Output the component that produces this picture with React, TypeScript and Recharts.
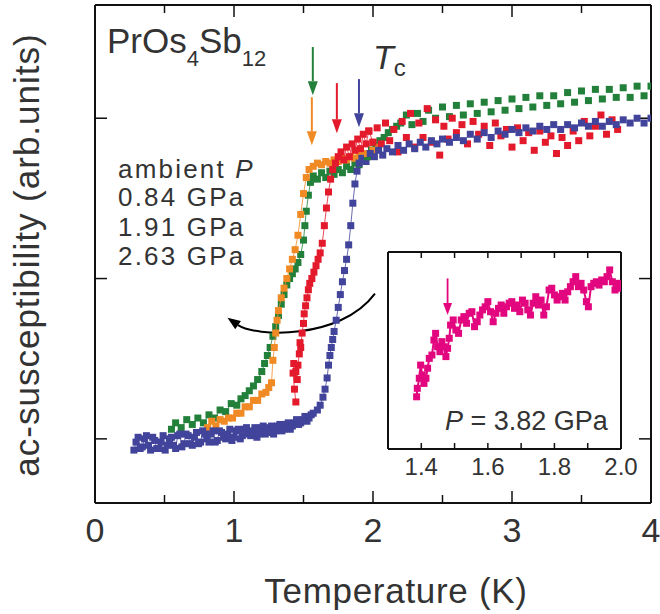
import React from 'react';
import { ComposedChart, Scatter, XAxis, YAxis, ReferenceLine } from 'recharts';

type Pt = [number, number];

// ---------- axes ----------
const tempTicks = [0, 1, 2, 3, 4];
const tempMinorTicks = [0.5, 1.5, 2.5, 3.5];
const chiTicks = [0, 1, 2];
const insetTicks = [1.4, 1.6, 1.8, 2.0];
const insetAllTicks = [1.4, 1.5, 1.6, 1.7, 1.8, 1.9];

// ---------- labels ----------
const pressureLabels = ['ambient', '0.84 GPa', '1.91 GPa', '2.63 GPa'];
const insetLabel = '= 3.82 GPa';

// ---------- series (T [K], chi [arb.]) ----------
const greenSeries: Pt[] = [
  [0.55, 0.06], [0.58, 0.1], [0.62, 0.07], [0.66, 0.12], [0.7, 0.09], [0.74, 0.13], [0.78, 0.1],
  [0.82, 0.15], [0.86, 0.13], [0.9, 0.18], [0.94, 0.17], [0.98, 0.22], [1.02, 0.21], [1.05, 0.25],
  [1.08, 0.27], [1.11, 0.3], [1.14, 0.33], [1.17, 0.37], [1.2, 0.42], [1.22, 0.47], [1.24, 0.52],
  [1.26, 0.57], [1.28, 0.64], [1.3, 0.7], [1.32, 0.77], [1.34, 0.84], [1.36, 0.9], [1.38, 0.96],
  [1.4, 1.0], [1.42, 1.03], [1.44, 1.06], [1.46, 1.1], [1.48, 1.15], [1.5, 1.24], [1.51, 1.33],
  [1.52, 1.42], [1.535, 1.52], [1.55, 1.6], [1.57, 1.64], [1.6, 1.62], [1.63, 1.66], [1.66, 1.63],
  [1.69, 1.67], [1.72, 1.65], [1.75, 1.68], [1.78, 1.66], [1.81, 1.7], [1.84, 1.68], [1.87, 1.72],
  [1.9, 1.71], [1.93, 1.74], [1.96, 1.76], [1.99, 1.8], [2.02, 1.83], [2.05, 1.86], [2.08, 1.88],
  [2.11, 1.91], [2.14, 1.93], [2.17, 1.95], [2.2, 1.97], [2.24, 2.02], [2.28, 1.96], [2.32, 2.03],
  [2.36, 1.98], [2.4, 2.05], [2.45, 2.0], [2.5, 2.07], [2.55, 2.01], [2.6, 2.08], [2.65, 2.02],
  [2.7, 2.09], [2.75, 2.03], [2.8, 2.1], [2.85, 2.04], [2.9, 2.11], [2.95, 2.05], [3.0, 2.12],
  [3.05, 2.06], [3.1, 2.13], [3.15, 2.07], [3.2, 2.14], [3.25, 2.08], [3.3, 2.14], [3.35, 2.09],
  [3.4, 2.16], [3.45, 2.1], [3.5, 2.17], [3.55, 2.11], [3.6, 2.18], [3.65, 2.12], [3.7, 2.18],
  [3.75, 2.13], [3.8, 2.19], [3.85, 2.13], [3.9, 2.2], [3.95, 2.14], [4.0, 2.2],
];

const orangeSeries: Pt[] = [
  [0.81, 0.07], [0.84, 0.11], [0.87, 0.08], [0.9, 0.12], [0.93, 0.11], [0.96, 0.13], [0.99, 0.13],
  [1.02, 0.16], [1.05, 0.16], [1.08, 0.2], [1.11, 0.2], [1.14, 0.24], [1.17, 0.24], [1.2, 0.28],
  [1.23, 0.29], [1.25, 0.32], [1.27, 0.35], [1.28, 0.49], [1.29, 0.57], [1.3, 0.66], [1.31, 0.74],
  [1.32, 0.8], [1.34, 0.88], [1.36, 0.94], [1.38, 1.0], [1.4, 1.06], [1.42, 1.12], [1.44, 1.18],
  [1.46, 1.27], [1.48, 1.4], [1.5, 1.53], [1.52, 1.63], [1.54, 1.68], [1.57, 1.7], [1.6, 1.72],
  [1.63, 1.71], [1.66, 1.73], [1.69, 1.72], [1.72, 1.74], [1.75, 1.73], [1.78, 1.75], [1.81, 1.74],
  [1.84, 1.76], [1.87, 1.75], [1.9, 1.77], [1.93, 1.78], [1.96, 1.78], [2.0, 1.8], [2.04, 1.82],
];

const redSeries: Pt[] = [
  [1.445, 0.23], [1.435, 0.31], [1.425, 0.41], [1.43, 0.47], [1.445, 0.42], [1.455, 0.37],
  [1.46, 0.46], [1.47, 0.53], [1.475, 0.6], [1.48, 0.57], [1.49, 0.66], [1.5, 0.72], [1.505, 0.78],
  [1.515, 0.83], [1.525, 0.88], [1.535, 0.93], [1.545, 0.97], [1.56, 1.0], [1.575, 1.04],
  [1.59, 1.08], [1.605, 1.12], [1.62, 1.16], [1.635, 1.22], [1.65, 1.33], [1.665, 1.44],
  [1.68, 1.54], [1.695, 1.62], [1.71, 1.68], [1.73, 1.72], [1.75, 1.76], [1.77, 1.79], [1.79, 1.74],
  [1.81, 1.82], [1.83, 1.76], [1.85, 1.84], [1.87, 1.8], [1.89, 1.87], [1.91, 1.81], [1.93, 1.9],
  [1.95, 1.84], [1.97, 1.92], [2.0, 1.85], [2.03, 1.94], [2.06, 1.84], [2.09, 1.97], [2.12, 1.86],
  [2.15, 1.93], [2.18, 1.79], [2.21, 1.98], [2.24, 1.88], [2.27, 2.03], [2.3, 1.82], [2.33, 1.97],
  [2.36, 1.88], [2.39, 2.06], [2.42, 1.85], [2.45, 1.99], [2.48, 1.77], [2.51, 1.95], [2.54, 1.87],
  [2.57, 2.0], [2.6, 1.91], [2.64, 1.96], [2.68, 1.84], [2.72, 1.98], [2.76, 1.9], [2.8, 1.95],
  [2.84, 1.83], [2.88, 1.97], [2.92, 1.89], [2.96, 1.93], [3.0, 1.82], [3.04, 1.94], [3.08, 1.86],
  [3.12, 1.91], [3.16, 1.8], [3.2, 1.92], [3.24, 1.85], [3.28, 1.89], [3.32, 1.78], [3.36, 1.88],
  [3.4, 1.83], [3.44, 1.92], [3.48, 1.86], [3.52, 1.98], [3.56, 1.89], [3.6, 1.95], [3.64, 2.02],
  [3.68, 1.9], [3.72, 1.99], [3.76, 1.93],
];

const blueSeries: Pt[] = [
  [0.28, -0.07], [0.295, -0.02], [0.31, 0.01], [0.325, -0.06], [0.34, -0.05], [0.355, 0.0], [0.37, 0.02],
  [0.385, -0.04], [0.4, -0.07], [0.415, 0.01], [0.43, -0.01], [0.445, -0.06], [0.46, -0.06], [0.475, -0.02],
  [0.49, 0.02], [0.505, -0.07], [0.52, -0.04], [0.535, 0.0], [0.55, 0.01], [0.565, -0.04], [0.58, -0.06],
  [0.595, 0.02], [0.61, 0.03], [0.625, -0.05], [0.64, -0.03], [0.655, 0.03], [0.67, 0.02], [0.685, -0.03],
  [0.7, -0.04], [0.715, 0.01], [0.73, 0.04], [0.745, -0.03], [0.76, -0.02], [0.775, 0.05], [0.79, 0.03],
  [0.805, 0.0], [0.82, -0.02], [0.835, 0.03], [0.85, 0.05], [0.865, -0.02], [0.88, -0.01], [0.895, 0.05],
  [0.91, 0.04], [0.925, 0.01], [0.94, 0.0], [0.955, 0.03], [0.97, 0.06], [0.985, -0.01], [1.0, 0.01],
  [1.015, 0.05], [1.03, 0.06], [1.045, 0.0], [1.06, 0.02], [1.075, 0.06], [1.09, 0.07], [1.105, 0.03],
  [1.12, 0.02], [1.135, 0.05], [1.15, 0.07], [1.165, 0.01], [1.18, 0.03], [1.195, 0.07], [1.21, 0.08],
  [1.225, 0.03], [1.24, 0.04], [1.255, 0.07], [1.27, 0.08], [1.285, 0.03], [1.3, 0.05], [1.315, 0.08],
  [1.33, 0.09], [1.345, 0.05], [1.36, 0.06], [1.375, 0.09], [1.39, 0.1], [1.405, 0.06], [1.42, 0.08],
  [1.435, 0.1], [1.45, 0.12], [1.465, 0.09], [1.48, 0.1], [1.495, 0.12], [1.51, 0.14], [1.525, 0.11],
  [1.54, 0.13], [1.555, 0.15], [1.57, 0.16], [1.6, 0.18], [1.62, 0.21], [1.64, 0.26], [1.655, 0.31],
  [1.67, 0.38], [1.68, 0.46], [1.69, 0.52], [1.7, 0.57], [1.71, 0.62], [1.72, 0.67], [1.735, 0.74],
  [1.75, 0.82], [1.765, 0.9], [1.78, 0.98], [1.795, 1.05], [1.81, 1.12], [1.825, 1.21], [1.84, 1.33],
  [1.855, 1.47], [1.87, 1.59], [1.885, 1.67], [1.9, 1.72], [1.92, 1.75], [1.95, 1.73], [1.98, 1.78],
  [2.01, 1.76], [2.04, 1.8], [2.07, 1.77], [2.1, 1.81], [2.14, 1.79], [2.18, 1.83], [2.22, 1.8],
  [2.26, 1.84], [2.3, 1.81], [2.34, 1.85], [2.38, 1.82], [2.42, 1.86], [2.46, 1.84], [2.5, 1.87],
  [2.55, 1.85], [2.6, 1.88], [2.65, 1.86], [2.7, 1.9], [2.75, 1.87], [2.8, 1.91], [2.85, 1.88],
  [2.9, 1.92], [2.95, 1.9], [3.0, 1.93], [3.05, 1.91], [3.1, 1.94], [3.15, 1.92], [3.2, 1.95],
  [3.25, 1.93], [3.3, 1.96], [3.35, 1.93], [3.4, 1.96], [3.45, 1.94], [3.5, 1.97], [3.55, 1.95],
  [3.6, 1.98], [3.65, 1.95], [3.7, 1.98], [3.75, 1.96], [3.8, 1.99], [3.85, 1.97], [3.9, 2.0],
  [3.95, 1.97], [4.0, 2.0],
];

const insetSeries: Pt[] = [
  [1.386, 0.265], [1.388, 0.308], [1.394, 0.359], [1.398, 0.426], [1.403, 0.376], [1.408, 0.333],
  [1.414, 0.359], [1.419, 0.41], [1.424, 0.46], [1.432, 0.477], [1.438, 0.553], [1.443, 0.587],
  [1.449, 0.519], [1.456, 0.494], [1.462, 0.545], [1.468, 0.519], [1.474, 0.469], [1.479, 0.511],
  [1.484, 0.562], [1.488, 0.629], [1.496, 0.655], [1.504, 0.604], [1.512, 0.587], [1.52, 0.655],
  [1.528, 0.672], [1.536, 0.638], [1.544, 0.689], [1.552, 0.697], [1.56, 0.621], [1.568, 0.646],
  [1.576, 0.68], [1.584, 0.706], [1.592, 0.722], [1.6, 0.748], [1.608, 0.697], [1.616, 0.646],
  [1.624, 0.689], [1.632, 0.714], [1.64, 0.731], [1.648, 0.689], [1.656, 0.722], [1.664, 0.74],
  [1.672, 0.748], [1.68, 0.714], [1.688, 0.731], [1.696, 0.697], [1.704, 0.756], [1.712, 0.74],
  [1.72, 0.706], [1.728, 0.68], [1.736, 0.74], [1.744, 0.773], [1.752, 0.731], [1.76, 0.756],
  [1.768, 0.68], [1.776, 0.722], [1.784, 0.807], [1.792, 0.816], [1.8, 0.782], [1.808, 0.756],
  [1.816, 0.773], [1.824, 0.79], [1.832, 0.756], [1.84, 0.798], [1.848, 0.824], [1.856, 0.849],
  [1.864, 0.875], [1.872, 0.824], [1.88, 0.841], [1.888, 0.807], [1.896, 0.748], [1.902, 0.722],
  [1.91, 0.824], [1.918, 0.841], [1.926, 0.849], [1.934, 0.832], [1.942, 0.858], [1.95, 0.849],
  [1.958, 0.875], [1.966, 0.909], [1.974, 0.849], [1.982, 0.807], [1.99, 0.841], [1.998, 0.816],
];

// ---------- colours ----------
const GREEN = '#22803a';
const ORANGE = '#f08a24';
const RED = '#e31a2c';
const BLUE = '#41449a';
const MAGENTA = '#e2077f';

// ---------- Tc markers (T, arrow start chi, arrow end chi) ----------
const tcArrows = [
  { t: 1.567, from: 2.444, to: 2.144, color: GREEN },
  { t: 1.56, from: 2.131, to: 1.831, color: ORANGE },
  { t: 1.74, from: 2.219, to: 1.906, color: RED },
  { t: 1.899, from: 2.244, to: 1.944, color: BLUE },
];
const insetTc = { t: 1.479, from: 0.866, to: 0.68 };
const pressureArrow = { fromT: 2.014, fromChi: 0.906, toT: 0.953, toChi: 0.756 };
const transitionEnd = 2.0; // connecting lines are visible only across the transitions

const FONT = "'Liberation Sans', Arial, Helvetica, sans-serif";
const TEXT = '#333';
const AXIS = '#111';

const toRows = (pts: Pt[]) => pts.map(([t, chi]) => ({ t, chi }));
const blank = () => '';

const square = (color: string, s: number) => (p: any) =>
  p.cx == null ? <g /> : <rect x={p.cx - s / 2} y={p.cy - s / 2} width={s} height={s} fill={color} />;

// inward tick marks at both ends of a vertical reference line
const xTickMark = (len: number) => (p: any) => {
  const { x1, y1, y2 } = p;
  const top = Math.min(y1, y2);
  const bottom = Math.max(y1, y2);
  return (
    <g>
      <line x1={x1} x2={x1} y1={bottom} y2={bottom - len} stroke={AXIS} strokeWidth={1.5} />
      <line x1={x1} x2={x1} y1={top} y2={top + len} stroke={AXIS} strokeWidth={1.5} />
    </g>
  );
};

const straightArrow = (color: string, head: number, half: number, w: number) => (p: any) => {
  const { x1, y1, x2, y2 } = p;
  const dx = x2 - x1;
  const dy = y2 - y1;
  const len = Math.hypot(dx, dy) || 1;
  const ux = dx / len;
  const uy = dy / len;
  const bx = x2 - ux * head;
  const by = y2 - uy * head;
  return (
    <g>
      <line x1={x1} y1={y1} x2={bx} y2={by} stroke={color} strokeWidth={w} />
      <polygon
        points={`${x2},${y2} ${bx - uy * half},${by + ux * half} ${bx + uy * half},${by - ux * half}`}
        fill={color}
      />
    </g>
  );
};

const curvedArrow = (p: any) => {
  const { x1, y1, x2, y2 } = p;
  const c1x = x1 - 35;
  const c1y = y1 + 47;
  const c2x = x2 + 27;
  const c2y = y2 + 19;
  const tx = x2 - c2x;
  const ty = y2 - c2y;
  const len = Math.hypot(tx, ty) || 1;
  const ux = tx / len;
  const uy = ty / len;
  const head = 13;
  const half = 5;
  const bx = x2 - ux * head;
  const by = y2 - uy * head;
  return (
    <g>
      <path d={`M${x1},${y1} C${c1x},${c1y} ${c2x},${c2y} ${bx},${by}`} fill="none" stroke="#000" strokeWidth={2} />
      <polygon
        points={`${x2},${y2} ${bx - uy * half},${by + ux * half} ${bx + uy * half},${by - ux * half}`}
        fill="#000"
      />
    </g>
  );
};

const axisLine = { strokeWidth: 2 };
const tickLine = { strokeWidth: 1.5 };

const seriesList = [
  { key: 'green', data: greenSeries, color: GREEN },
  { key: 'orange', data: orangeSeries, color: ORANGE },
  { key: 'red', data: redSeries, color: RED },
  { key: 'blue', data: blueSeries, color: BLUE },
];

export default function App() {
  return (
    <div style={{ position: 'absolute', left: 0, top: 0, width: 660, height: 614, background: '#fff' }}>
      <ComposedChart width={660} height={614} margin={{ top: 4, right: 9, bottom: 110, left: 95 }}>
        <XAxis
          xAxisId="t"
          type="number"
          dataKey="t"
          domain={[0, 4]}
          ticks={tempTicks}
          interval={0}
          height={1}
          tickSize={0}
          tickMargin={15}
          axisLine={axisLine}
          stroke={AXIS}
          tickLine={false}
          tick={{ fontSize: 34, fill: TEXT, fontFamily: FONT }}
          allowDataOverflow
        />
        <XAxis xAxisId="tTop" orientation="top" type="number" domain={[0, 4]} ticks={tempTicks} interval={0}
          height={1} stroke={AXIS} axisLine={axisLine} tickLine={false} tickFormatter={blank} allowDataOverflow />
        <YAxis
          yAxisId="chi"
          type="number"
          dataKey="chi"
          domain={[-0.4, 2.70625]}
          ticks={chiTicks}
          interval={0}
          width={1}
          mirror
          stroke={AXIS}
          tickSize={12}
          axisLine={axisLine}
          tickLine={tickLine}
          tickFormatter={blank}
          allowDataOverflow
        />
        <YAxis yAxisId="chiR" orientation="right" type="number" domain={[-0.4, 2.70625]} ticks={chiTicks}
          interval={0} width={1} mirror stroke={AXIS} tickSize={12} axisLine={axisLine} tickLine={tickLine}
          tickFormatter={blank} allowDataOverflow />

        {tempTicks.slice(1, -1).map((v) => (
          <ReferenceLine key={`maj${v}`} xAxisId="t" yAxisId="chi" x={v} shape={xTickMark(12)} />
        ))}
        {tempMinorTicks.map((v) => (
          <ReferenceLine key={`min${v}`} xAxisId="t" yAxisId="chi" x={v} shape={xTickMark(8)} />
        ))}

        {seriesList.map((s) => (
          <Scatter
            key={`${s.key}-tr`}
            xAxisId="t"
            yAxisId="chi"
            data={toRows(s.data.filter(([t]) => t <= transitionEnd))}
            dataKey="chi"
            fill={s.color}
            line={{ stroke: s.color, strokeWidth: 0.8 }}
            lineType="joint"
            shape={square(s.color, 7)}
            isAnimationActive={false}
          />
        ))}
        {seriesList.map((s) => (
          <Scatter
            key={`${s.key}-n`}
            xAxisId="t"
            yAxisId="chi"
            data={toRows(s.data.filter(([t]) => t >= transitionEnd - 0.04))}
            dataKey="chi"
            fill={s.color}
            shape={square(s.color, 7)}
            isAnimationActive={false}
          />
        ))}

        {tcArrows.map((a) => (
          <ReferenceLine
            key={a.color}
            xAxisId="t"
            yAxisId="chi"
            segment={[{ x: a.t, y: a.from }, { x: a.t, y: a.to }]}
            ifOverflow="visible"
            shape={straightArrow(a.color, 14, 5, 2)}
          />
        ))}
        <ReferenceLine
          xAxisId="t"
          yAxisId="chi"
          segment={[
            { x: pressureArrow.fromT, y: pressureArrow.fromChi },
            { x: pressureArrow.toT, y: pressureArrow.toChi },
          ]}
          ifOverflow="visible"
          shape={curvedArrow}
        />

        <text x={107} y={53} fill={TEXT} fontFamily={FONT} fontSize={35}>
          <tspan>PrOs</tspan>
          <tspan fontSize={22} y={66}>4</tspan>
          <tspan y={53}>Sb</tspan>
          <tspan fontSize={22} y={66}>12</tspan>
        </text>
        <text x={373} y={69} fill={TEXT} fontFamily={FONT} fontSize={34}>
          <tspan fontStyle="italic">T</tspan>
          <tspan fontSize={24} y={76}>c</tspan>
        </text>
        {pressureLabels.map((lab, i) => (
          <text key={lab} x={118} y={[178, 206, 236, 265][i]} fill={TEXT} fontFamily={FONT} fontSize={26} letterSpacing={2.2}>
            {i === 0 ? (
              <>
                <tspan>{lab} </tspan>
                <tspan fontStyle="italic">P</tspan>
              </>
            ) : (
              lab
            )}
          </text>
        ))}
        <text x={396} y={603} textAnchor="middle" fill={TEXT} fontFamily={FONT} fontSize={35} letterSpacing={0.7}>
          Temperature (K)
        </text>
        <text
          x={39}
          y={255}
          transform="rotate(-90 39 255)"
          textAnchor="middle"
          fill={TEXT}
          fontFamily={FONT}
          fontSize={35}
          letterSpacing={1}
        >
          ac-susceptibility (arb.units)
        </text>
      </ComposedChart>

      <div style={{ position: 'absolute', left: 370, top: 240, width: 290, height: 250 }}>
        <div style={{ position: 'absolute', left: 18, top: 12, width: 233, height: 197, background: '#fff' }} />
        <div style={{ position: 'absolute', left: 0, top: 0 }}>
          <ComposedChart width={290} height={250} margin={{ top: 11, right: 38, bottom: 40, left: 17 }}>
            <XAxis
              xAxisId="it"
              type="number"
              dataKey="t"
              domain={[1.3, 2.0]}
              ticks={insetTicks}
              interval={0}
              height={1}
              tickSize={0}
              tickMargin={9}
              stroke={AXIS}
              axisLine={axisLine}
              tickLine={false}
              tick={{ fontSize: 24, fill: TEXT, fontFamily: FONT }}
              tickFormatter={(v: number) => v.toFixed(1)}
              allowDataOverflow
            />
            <XAxis xAxisId="itTop" orientation="top" type="number" domain={[1.3, 2.0]} ticks={insetAllTicks}
              interval={0} height={1} stroke={AXIS} axisLine={axisLine} tickLine={false} tickFormatter={blank} allowDataOverflow />
            <YAxis yAxisId="iy" type="number" dataKey="chi" domain={[0, 1]} ticks={[]} width={1} stroke={AXIS}
              axisLine={axisLine} tickLine={false} tick={false} allowDataOverflow />
            <YAxis yAxisId="iyR" orientation="right" type="number" domain={[0, 1]} ticks={[]} width={1} stroke={AXIS}
              axisLine={axisLine} tickLine={false} tick={false} allowDataOverflow />
            {insetAllTicks.map((v) => (
              <ReferenceLine key={`it${v}`} xAxisId="it" yAxisId="iy" x={v} shape={xTickMark(6)} />
            ))}
            <Scatter
              xAxisId="it"
              yAxisId="iy"
              data={toRows(insetSeries)}
              dataKey="chi"
              fill={MAGENTA}
              line={{ stroke: MAGENTA, strokeWidth: 2 }}
              lineType="joint"
              shape={square(MAGENTA, 7)}
              isAnimationActive={false}
            />
            <ReferenceLine
              xAxisId="it"
              yAxisId="iy"
              segment={[{ x: insetTc.t, y: insetTc.from }, { x: insetTc.t, y: insetTc.to }]}
              ifOverflow="visible"
              shape={straightArrow(MAGENTA, 12, 4.5, 1.8)}
            />
            <text x={75} y={190} fill={TEXT} fontFamily={FONT} fontSize={27}>
              <tspan fontStyle="italic">P</tspan>
              <tspan> {insetLabel}</tspan>
            </text>
          </ComposedChart>
        </div>
      </div>
    </div>
  );
}
